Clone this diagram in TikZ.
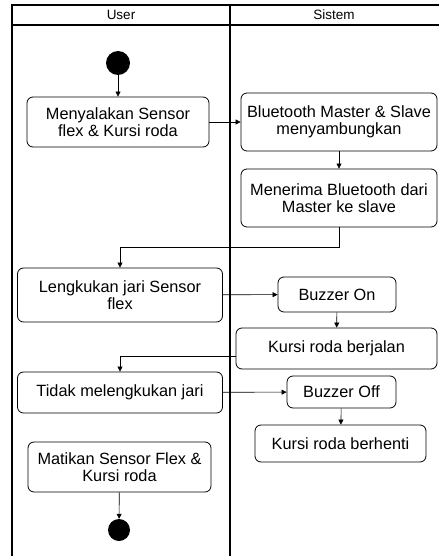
\documentclass[tikz,border=0pt]{standalone}
\usepackage{fontspec}
\setmainfont{Liberation Sans}
\usetikzlibrary{arrows.meta,positioning,calc}

\begin{document}
\begin{tikzpicture}[
  x=1pt, y=-1pt,
  font=\fontsize{16.3}{17}\selectfont,
  act/.style={draw, rounded corners=6pt, line width=0.8pt, align=center, inner sep=2pt},
  lane/.style={line width=1.8pt},
  hdr/.style={font=\fontsize{13.5}{14}\selectfont},
  dot/.style={circle, fill=black, inner sep=0pt},
  arr/.style={-{Triangle[length=5pt,width=5pt]}, line width=0.6pt},
]
\useasboundingbox (0,0) rectangle (439,556);

% swimlanes
\draw[lane] (12,556) -- (12,5) -- (439,5);
\draw[lane] (12,25) -- (439,25);
\draw[lane] (230,5) -- (230,556);
\node[hdr] (hUser) at (121,15) {User};
\node[hdr] (hSistem) at (334,15) {Sistem};

\node[dot, minimum size=24pt] (start) at (118,63) {};
\node[act, minimum width=182pt, minimum height=50pt] (nyala) at (118,122)
  {Menyalakan Sensor\\flex \& Kursi roda};
\node[act, minimum width=196pt, minimum height=58pt] (sambung) at (339,122)
  {Bluetooth Master \& Slave\\menyambungkan};
\node[act, minimum width=196pt, minimum height=58pt] (terima) at (339,198)
  {Menerima Bluetooth dari\\Master ke slave};
\node[act, minimum width=205pt, minimum height=54pt] (lengkuk) at (120,295)
  {Lengkukan jari Sensor\\flex};
\node[act, minimum width=118pt, minimum height=35pt] (bOn) at (337,294.5)
  {Buzzer On};
\node[act, minimum width=201pt, minimum height=41pt] (jalan) at (336.5,348.5)
  {Kursi roda berjalan};
\node[act, minimum width=205pt, minimum height=41pt] (tidak) at (120,392.5)
  {Tidak melengkukan jari};
\node[act, minimum width=109pt, minimum height=32pt] (bOff) at (341.5,392)
  {Buzzer Off};
\node[act, minimum width=171pt, minimum height=37pt] (henti) at (340.5,443.5)
  {Kursi roda berhenti};
\node[act, minimum width=183pt, minimum height=50pt] (mati) at (119.5,467)
  {Matikan Sensor Flex \&\\Kursi roda};
\node[dot, minimum size=22pt] (end) at (119,530) {};

\draw[arr] (start) -- (nyala);
\draw[arr] (nyala) -- (sambung);
\draw[arr] (sambung) -- (terima);
\draw[arr] (terima.south) -- ++(0,20) -| (lengkuk.north);
\draw[arr] (lengkuk) -- (bOn);
\draw[arr] (bOn) -- (jalan);
\draw[arr] ([yshift=-8pt]jalan.west) -| (tidak.north);
\draw[arr] (tidak) -- (bOff);
\draw[arr] (bOff) -- (henti);
\draw[arr] (mati) -- (end);
\end{tikzpicture}
\end{document}
